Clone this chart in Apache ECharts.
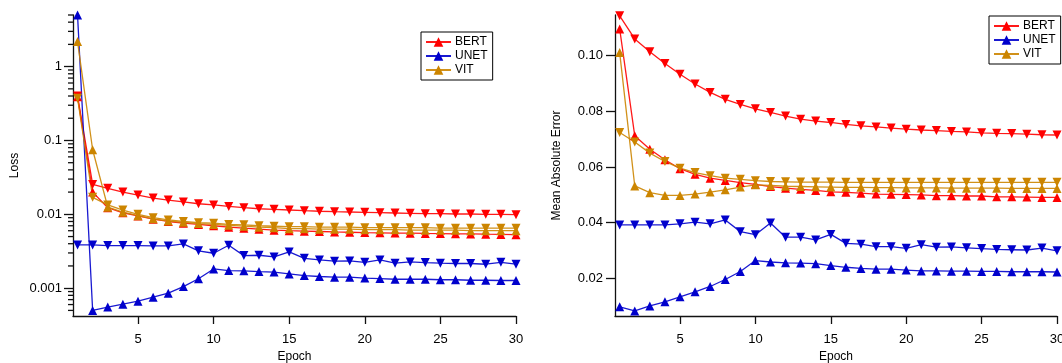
<!DOCTYPE html>
<html><head><meta charset="utf-8">
<script src="https://cdn.jsdelivr.net/npm/echarts@6/dist/echarts.min.js"></script>
<style>html,body{margin:0;padding:0;background:#fff}#c{width:1062px;height:363px}</style>
</head><body><div id="c"></div>
<script>
// ---------- data ----------
const epochs = [1,2,3,4,5,6,7,8,9,10,11,12,13,14,15,16,17,18,19,20,21,22,23,24,25,26,27,28,29,30];
const seriesNames = ['BERT','UNET','VIT'];

// Loss (log scale) — up triangles = train, down triangles = validation
const bertTrainLoss = [0.39,0.020,0.0123,0.0105,0.0095,0.0086,0.0080,0.0076,0.0073,0.0070,0.0067,0.0065,0.0063,0.0061,0.0060,0.00592,0.00585,0.00578,0.00572,0.00566,0.00562,0.00558,0.00555,0.00551,0.00548,0.00545,0.00542,0.00538,0.00535,0.00531];
const bertValLoss = [0.40,0.0254,0.0225,0.0200,0.0182,0.0166,0.0156,0.0147,0.0139,0.0134,0.0128,0.0123,0.0119,0.0117,0.01145,0.0112,0.0110,0.01087,0.01075,0.01064,0.01053,0.01042,0.01031,0.0102,0.0102,0.0101,0.0101,0.0100,0.0100,0.0099];
const unetTrainLoss = [5.0,0.000499,0.000554,0.000608,0.000667,0.000755,0.000855,0.00105,0.00134,0.00182,0.00173,0.00172,0.00168,0.00165,0.00156,0.00148,0.00144,0.00141,0.00141,0.00137,0.00135,0.00132,0.00132,0.00132,0.00130,0.00130,0.00128,0.00128,0.00127,0.00127];
const unetValLoss = [0.00385,0.00385,0.00377,0.00377,0.00377,0.00373,0.00373,0.00397,0.00320,0.00297,0.00381,0.00276,0.00279,0.00265,0.00310,0.00254,0.00241,0.00232,0.00234,0.00224,0.00241,0.00218,0.00227,0.00222,0.00218,0.00216,0.00216,0.00211,0.00224,0.00211];
const vitTrainLoss = [2.18,0.0748,0.0125,0.0107,0.0096,0.0087,0.0081,0.0078,0.0075,0.0073,0.0071,0.0069,0.0067,0.0066,0.0064,0.0064,0.0063,0.0063,0.0063,0.0062,0.0062,0.0062,0.0061,0.0061,0.0061,0.0061,0.0060,0.0060,0.0060,0.0060];
const vitValLoss = [0.373,0.0170,0.0134,0.0114,0.0100,0.0090,0.0084,0.0080,0.0077,0.0076,0.0073,0.0072,0.0070,0.0069,0.0068,0.0068,0.0067,0.0067,0.0067,0.0066,0.0066,0.0066,0.0066,0.0066,0.0065,0.0065,0.0065,0.0065,0.0065,0.0065];

// Mean Absolute Error
const bertTrainMae = [0.1096,0.0712,0.0664,0.0626,0.0594,0.0574,0.0560,0.0552,0.0544,0.0538,0.0530,0.0524,0.0520,0.0516,0.0511,0.0509,0.0506,0.0503,0.0502,0.0501,0.0500,0.0497,0.0497,0.0496,0.0496,0.0493,0.0493,0.0492,0.0491,0.0491];
const bertValMae = [0.1143,0.1060,0.1014,0.0972,0.0933,0.0898,0.0868,0.0843,0.0825,0.0809,0.0796,0.0783,0.0772,0.0765,0.0760,0.0753,0.0748,0.0744,0.0740,0.0736,0.0733,0.0731,0.0728,0.0726,0.0723,0.0721,0.0720,0.0718,0.0716,0.0715];
const unetTrainMae = [0.0098,0.0083,0.0101,0.0116,0.0134,0.0152,0.0171,0.0196,0.0225,0.0264,0.0259,0.0256,0.0255,0.0253,0.0246,0.0240,0.0236,0.0233,0.0233,0.0230,0.0227,0.0227,0.0226,0.0226,0.0225,0.0225,0.0224,0.0224,0.0224,0.0223];
const unetValMae = [0.0392,0.0392,0.0392,0.0392,0.0396,0.0402,0.0396,0.0410,0.0368,0.0357,0.0399,0.0348,0.0348,0.0338,0.0358,0.0326,0.0323,0.0314,0.0314,0.0308,0.0321,0.0312,0.0313,0.0310,0.0307,0.0304,0.0303,0.0302,0.0309,0.0299];
const vitTrainMae = [0.1011,0.0532,0.0508,0.0498,0.0498,0.0503,0.0510,0.0518,0.0528,0.0536,0.0534,0.0531,0.0530,0.0529,0.0528,0.0527,0.0527,0.0526,0.0526,0.0525,0.0525,0.0525,0.0524,0.0524,0.0524,0.0524,0.0523,0.0523,0.0523,0.0523];
const vitValMae = [0.0724,0.0690,0.0650,0.0620,0.0596,0.0580,0.0569,0.0560,0.0556,0.0551,0.0548,0.0547,0.0546,0.0546,0.0546,0.0545,0.0545,0.0545,0.0545,0.0545,0.0545,0.0545,0.0545,0.0545,0.0545,0.0545,0.0545,0.0545,0.0545,0.0545];

// tick labels
const epochTicks = [5,10,15,20,25,30];
const lossMajorTicks = [0.001,0.01,0.1,1];
const lossMinorTicks = [0.0005,0.0006,0.0007,0.0008,0.0009,0.002,0.003,0.004,0.005,0.006,0.007,0.008,0.009,0.02,0.03,0.04,0.05,0.06,0.07,0.08,0.09,0.2,0.3,0.4,0.5,0.6,0.7,0.8,0.9,2,3,4,5];
const maeTicks = [0.02,0.04,0.06,0.08,0.10];

// ---------- chart ----------
const FONT = '"Liberation Sans", Arial, sans-serif';
const COLORS = {BERT:'#ff0000', UNET:'#0000cc', VIT:'#cc8500'};
const AXC = '#111';

function pairs(vals){ return vals.map((v,i)=>[epochs[i], v]); }
function mk(name, vals, down, xi, yi){
  const c = COLORS[name];
  return {
    type:'line', name, xAxisIndex:xi, yAxisIndex:yi, data:pairs(vals),
    symbol:'triangle', symbolSize:9, symbolRotate: down ? 180 : 0,
    showAllSymbol:true, clip:false,
    lineStyle:{color:c, width:1.3, opacity:0.9},
    itemStyle:{color:c},
    emphasis:{disabled:true}, silent:true, animation:false
  };
}
function xAx(grid){
  return {
    gridIndex:grid, type:'value', min: grid===0 ? 0.7 : 0.69, max:30,
    axisLine:{onZero:false, lineStyle:{color:AXC, width:1.3}},
    axisTick:{customValues:epochTicks, length:8, lineStyle:{color:AXC, width:1.3}},
    axisLabel:{customValues:epochTicks, fontSize:13, margin:17, color:'#000', fontFamily:FONT},
    splitLine:{show:false},
    name:'Epoch', nameLocation:'middle', nameGap:33,
    nameTextStyle:{fontSize:12, color:'#000', fontFamily:FONT}
  };
}
function legend(left, top){
  return {
    data:seriesNames, orient:'vertical', left, top,
    itemWidth:25, itemHeight:12, itemGap:2, padding:[4,5,4,4],
    borderColor:'#000', borderWidth:1, backgroundColor:'#fff', borderRadius:0,
    textStyle:{fontSize:12, color:'#000', fontFamily:FONT, padding:[0,0,0,-1]},
    selectedMode:false
  };
}

// minor ticks of the log axis, placed through the axis scale
const minorTickSeries = {
  type:'custom', xAxisIndex:0, yAxisIndex:0, clip:false, z:5, silent:true,
  data: lossMinorTicks.map(v => [epochs[0], v]),
  renderItem: function(params, api){
    const y = api.coord([api.value(0), api.value(1)])[1];
    const x0 = params.coordSys.x;
    return {type:'line', shape:{x1:x0-5, y1:y, x2:x0, y2:y},
            style:{stroke:AXC, lineWidth:1.3}};
  }
};

const option = {
  animation:false,
  textStyle:{fontFamily:FONT},
  grid:[
    {left:73, right:546, top:15, bottom:47, outerBoundsMode:'none'},
    {left:615, right:5, top:15, bottom:47, outerBoundsMode:'none'}
  ],
  xAxis:[xAx(0), xAx(1)],
  yAxis:[
    {gridIndex:0, type:'log', logBase:10, min:0.00042, max:5, position:'left',
     axisLine:{show:true, lineStyle:{color:AXC, width:1.3}},
     axisTick:{show:true, customValues:lossMajorTicks, length:9, lineStyle:{color:AXC, width:1.3}},
     axisLabel:{customValues:lossMajorTicks, fontSize:13, margin:11, color:'#000', fontFamily:FONT,
                formatter:v=>String(+v.toPrecision(3))},
     splitLine:{show:false}, minorTick:{show:false},
     name:'Loss', nameLocation:'middle', nameGap:52,
     nameTextStyle:{fontSize:12, color:'#000', fontFamily:FONT}},
    {gridIndex:1, type:'value', min:0.0065, max:0.1146, position:'left',
     axisLine:{show:true, lineStyle:{color:AXC, width:1.3}},
     axisTick:{show:true, customValues:maeTicks, length:9, lineStyle:{color:AXC, width:1.3}},
     axisLabel:{customValues:maeTicks, fontSize:13, margin:12, color:'#000', fontFamily:FONT,
                formatter:v=>(+v).toFixed(2)},
     splitLine:{show:false},
     name:'Mean Absolute Error', nameLocation:'middle', nameGap:52,
     nameTextStyle:{fontSize:12, color:'#000', fontFamily:FONT}}
  ],
  legend:[legend(421,32), legend(989,16)],
  series:[
    minorTickSeries,
    mk('BERT', bertTrainLoss, false, 0, 0),
    mk('BERT', bertValLoss, true, 0, 0),
    mk('UNET', unetTrainLoss, false, 0, 0),
    mk('UNET', unetValLoss, true, 0, 0),
    mk('VIT', vitTrainLoss, false, 0, 0),
    mk('VIT', vitValLoss, true, 0, 0),
    mk('BERT', bertTrainMae, false, 1, 1),
    mk('BERT', bertValMae, true, 1, 1),
    mk('UNET', unetTrainMae, false, 1, 1),
    mk('UNET', unetValMae, true, 1, 1),
    mk('VIT', vitTrainMae, false, 1, 1),
    mk('VIT', vitValMae, true, 1, 1)
  ]
};
const chart = echarts.init(document.getElementById('c'), null, {renderer:'canvas'});
chart.setOption(option);
</script>
</body></html>
